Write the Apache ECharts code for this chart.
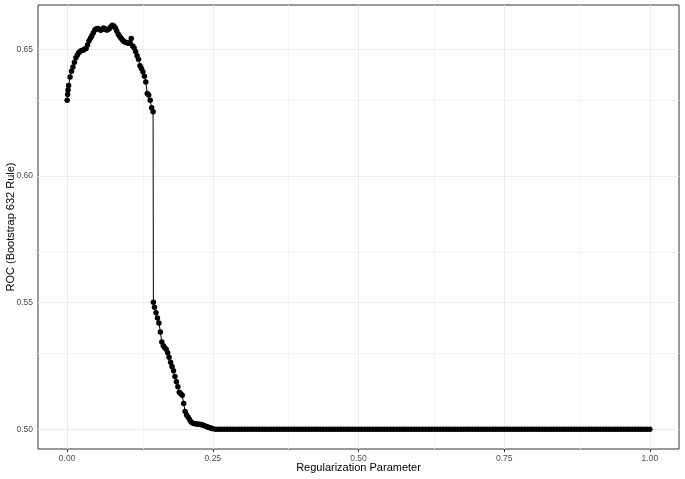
<!DOCTYPE html>
<html>
<head>
<meta charset="utf-8">
<script src="https://cdn.jsdelivr.net/npm/echarts@6/dist/echarts.min.js"></script>
<style>
  html, body { margin: 0; padding: 0; background: #fff; }
  #rocChart { width: 685px; height: 479px; }
</style>
</head>
<body>
<div id="rocChart"></div>
<script>
// regularization parameter (x) and ROC value (y) on the curved part
var rocX = [
  0, 0.0008, 0.0016, 0.0025, 0.005, 0.0075, 0.01, 0.0125, 0.015, 0.0175,
  0.02, 0.0225, 0.025, 0.0275, 0.03, 0.0325, 0.035, 0.0375, 0.04, 0.0425,
  0.045, 0.0475, 0.05, 0.0525, 0.055, 0.0575, 0.06, 0.0625, 0.065, 0.0675,
  0.07, 0.0725, 0.075, 0.0775, 0.08, 0.0825, 0.085, 0.0875, 0.09, 0.0925,
  0.095, 0.0975, 0.1, 0.1025, 0.105, 0.1075, 0.11, 0.1125, 0.115, 0.1175,
  0.12, 0.1225, 0.125, 0.1275, 0.13, 0.1325, 0.135, 0.1375, 0.14, 0.1425,
  0.145, 0.1475, 0.148, 0.15, 0.1525, 0.155, 0.1575, 0.16, 0.1625, 0.165,
  0.1675, 0.17, 0.1725, 0.175, 0.1775, 0.18, 0.1825, 0.185, 0.1875, 0.19,
  0.1925, 0.195, 0.1975, 0.2, 0.2025, 0.205, 0.2075, 0.21, 0.2125, 0.215,
  0.2175, 0.22, 0.2225, 0.225, 0.2275, 0.23, 0.2325, 0.235, 0.2375, 0.24,
  0.2425, 0.245, 0.2475, 0.25
]
var rocY = [
  0.6300, 0.6322, 0.6340, 0.6358, 0.6392, 0.6414, 0.6431, 0.6450, 0.6468, 0.6478,
  0.6487, 0.6493, 0.6496, 0.6497, 0.6502, 0.6504, 0.6518, 0.6534, 0.6545, 0.6555,
  0.6566, 0.6577, 0.6582, 0.6583, 0.6580, 0.6576, 0.6579, 0.6585, 0.6582, 0.6577,
  0.6578, 0.6583, 0.6590, 0.6596, 0.6593, 0.6586, 0.6574, 0.6561, 0.6553, 0.6545,
  0.6538, 0.6532, 0.6529, 0.6527, 0.6525, 0.6526, 0.6544, 0.6514, 0.6506, 0.6492,
  0.6476, 0.6462, 0.6436, 0.6425, 0.6412, 0.6395, 0.6372, 0.6326, 0.6320, 0.6300,
  0.6270, 0.6254, 0.5502, 0.5482, 0.5460, 0.5440, 0.5420, 0.5384, 0.5345, 0.5330,
  0.5322, 0.5316, 0.5302, 0.5284, 0.5265, 0.5248, 0.5231, 0.5208, 0.5188, 0.5168,
  0.5146, 0.5140, 0.5134, 0.5102, 0.5070, 0.5056, 0.5048, 0.5039, 0.5030, 0.5025,
  0.5023, 0.5022, 0.5021, 0.5020, 0.5020, 0.5018, 0.5017, 0.5015, 0.5012, 0.5010,
  0.5008, 0.5006, 0.5004, 0.5002
]
// flat part, ROC stays at 0.5
var flatX = [
  0.255, 0.26, 0.265, 0.27, 0.275, 0.28, 0.285, 0.29, 0.295, 0.3,
  0.305, 0.31, 0.315, 0.32, 0.325, 0.33, 0.335, 0.34, 0.345, 0.35,
  0.355, 0.36, 0.365, 0.37, 0.375, 0.38, 0.385, 0.39, 0.395, 0.4,
  0.405, 0.41, 0.415, 0.42, 0.425, 0.43, 0.435, 0.44, 0.445, 0.45,
  0.455, 0.46, 0.465, 0.47, 0.475, 0.48, 0.485, 0.49, 0.495, 0.5,
  0.505, 0.51, 0.515, 0.52, 0.525, 0.53, 0.535, 0.54, 0.545, 0.55,
  0.555, 0.56, 0.565, 0.57, 0.575, 0.58, 0.585, 0.59, 0.595, 0.6,
  0.605, 0.61, 0.615, 0.62, 0.625, 0.63, 0.635, 0.64, 0.645, 0.65,
  0.655, 0.66, 0.665, 0.67, 0.675, 0.68, 0.685, 0.69, 0.695, 0.7,
  0.705, 0.71, 0.715, 0.72, 0.725, 0.73, 0.735, 0.74, 0.745, 0.75,
  0.755, 0.76, 0.765, 0.77, 0.775, 0.78, 0.785, 0.79, 0.795, 0.8,
  0.805, 0.81, 0.815, 0.82, 0.825, 0.83, 0.835, 0.84, 0.845, 0.85,
  0.855, 0.86, 0.865, 0.87, 0.875, 0.88, 0.885, 0.89, 0.895, 0.9,
  0.905, 0.91, 0.915, 0.92, 0.925, 0.93, 0.935, 0.94, 0.945, 0.95,
  0.955, 0.96, 0.965, 0.97, 0.975, 0.98, 0.985, 0.99, 0.995, 1.0
]
var flatY = [
  0.5, 0.5, 0.5, 0.5, 0.5, 0.5, 0.5, 0.5, 0.5, 0.5,
  0.5, 0.5, 0.5, 0.5, 0.5, 0.5, 0.5, 0.5, 0.5, 0.5,
  0.5, 0.5, 0.5, 0.5, 0.5, 0.5, 0.5, 0.5, 0.5, 0.5,
  0.5, 0.5, 0.5, 0.5, 0.5, 0.5, 0.5, 0.5, 0.5, 0.5,
  0.5, 0.5, 0.5, 0.5, 0.5, 0.5, 0.5, 0.5, 0.5, 0.5,
  0.5, 0.5, 0.5, 0.5, 0.5, 0.5, 0.5, 0.5, 0.5, 0.5,
  0.5, 0.5, 0.5, 0.5, 0.5, 0.5, 0.5, 0.5, 0.5, 0.5,
  0.5, 0.5, 0.5, 0.5, 0.5, 0.5, 0.5, 0.5, 0.5, 0.5,
  0.5, 0.5, 0.5, 0.5, 0.5, 0.5, 0.5, 0.5, 0.5, 0.5,
  0.5, 0.5, 0.5, 0.5, 0.5, 0.5, 0.5, 0.5, 0.5, 0.5,
  0.5, 0.5, 0.5, 0.5, 0.5, 0.5, 0.5, 0.5, 0.5, 0.5,
  0.5, 0.5, 0.5, 0.5, 0.5, 0.5, 0.5, 0.5, 0.5, 0.5,
  0.5, 0.5, 0.5, 0.5, 0.5, 0.5, 0.5, 0.5, 0.5, 0.5,
  0.5, 0.5, 0.5, 0.5, 0.5, 0.5, 0.5, 0.5, 0.5, 0.5,
  0.5, 0.5, 0.5, 0.5, 0.5, 0.5, 0.5, 0.5, 0.5, 0.5
]

// tick labels and grid lines (ggplot style)
var xTicks = [0, 0.25, 0.5, 0.75, 1]
var xMinor = [0.125, 0.375, 0.625, 0.875]
var yTicks = [0.5, 0.55, 0.6, 0.65]
var yMinor = [0.525, 0.575, 0.625]

var allX = rocX.concat(flatX)
var allY = rocY.concat(flatY)
var points = allX.map(function (x, i) { return [x, allY[i]] })

var fontName = 'Liberation Sans, Arial, sans-serif'

var gridLines = []
xMinor.forEach(function (v) { gridLines.push({ xAxis: v, lineStyle: { color: '#F4F4F4', width: 1, type: 'solid' } }) })
yMinor.forEach(function (v) { gridLines.push({ yAxis: v, lineStyle: { color: '#F4F4F4', width: 1, type: 'solid' } }) })
xTicks.forEach(function (v) { gridLines.push({ xAxis: v, lineStyle: { color: '#EBEBEB', width: 1, type: 'solid' } }) })
yTicks.forEach(function (v) { gridLines.push({ yAxis: v, lineStyle: { color: '#EBEBEB', width: 1, type: 'solid' } }) })

var rocChart = echarts.init(document.getElementById('rocChart'))
var option = {
  animation: false,
  backgroundColor: '#ffffff',
  grid: {
    left: 38,
    top: 5,
    right: 6,
    bottom: 30,
    outerBoundsMode: 'none',
    containLabel: false,
    show: true,
    borderColor: '#333333',
    borderWidth: 1,
    backgroundColor: 'transparent'
  },
  xAxis: {
    type: 'value',
    min: -0.05,
    max: 1.05,
    name: 'Regularization Parameter',
    nameLocation: 'middle',
    nameGap: 13,
    nameMoveOverlap: false,
    nameTextStyle: { color: '#000', fontSize: 11, fontFamily: fontName, verticalAlign: 'top' },
    axisLine: { show: false },
    axisTick: { show: true, customValues: xTicks, length: 3, lineStyle: { color: '#333333' } },
    axisLabel: {
      customValues: xTicks,
      margin: 5,
      color: '#4D4D4D',
      fontSize: 8.5,
      fontFamily: fontName,
      formatter: function (v) { return v.toFixed(2) }
    },
    splitLine: { show: false }
  },
  yAxis: {
    type: 'value',
    min: 0.4922,
    max: 0.6676,
    name: 'ROC (Bootstrap 632 Rule)',
    nameLocation: 'middle',
    nameRotate: 90,
    nameGap: 22,
    nameMoveOverlap: false,
    nameTextStyle: { color: '#000', fontSize: 11, fontFamily: fontName },
    axisLine: { show: false },
    axisTick: { show: true, customValues: yTicks, length: 3, lineStyle: { color: '#333333' } },
    axisLabel: {
      customValues: yTicks,
      margin: 5,
      color: '#4D4D4D',
      fontSize: 8.5,
      fontFamily: fontName,
      formatter: function (v) { return v.toFixed(2) }
    },
    splitLine: { show: false }
  },
  series: [
    {
      // grid lines only
      type: 'line',
      data: [],
      z: 1,
      silent: true,
      markLine: {
        silent: true,
        z: 1,
        symbol: ['none', 'none'],
        label: { show: false },
        data: gridLines
      }
    },
    {
      name: 'ROC',
      type: 'line',
      z: 10,
      data: points,
      symbol: 'circle',
      symbolSize: 5.5,
      showSymbol: true,
      showAllSymbol: true,
      itemStyle: { color: '#000000' },
      lineStyle: { color: '#000000', width: 1 }
    }
  ]
}
rocChart.setOption(option, true)
</script>
</body>
</html>
